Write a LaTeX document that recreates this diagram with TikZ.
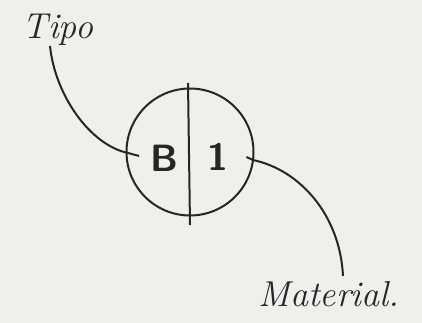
\documentclass[tikz,border=0pt]{standalone}
\usepackage{tikz}
\usetikzlibrary{positioning, calc}
\definecolor{InkGray}{RGB}{38,38,38}
\definecolor{PaperGray}{RGB}{239,239,236}

\begin{document}
\begin{tikzpicture}[x=1pt, y=-1pt, line width=2pt, draw=InkGray,
    handtext/.style={font=\fontsize{36}{36}\selectfont\itshape, text=InkGray, inner sep=0pt},
    markletter/.style={font=\fontsize{38}{38}\selectfont\sffamily\bfseries, text=InkGray, inner sep=0pt}]
  \fill[PaperGray] (0,0) rectangle (422,323);
  \useasboundingbox (0,0) rectangle (422,323);
  % symbol: circle split by a vertical stroke
  \node[circle, draw, minimum size=127pt, inner sep=0pt] (disc) at (190,152) {};
  \coordinate (top) at (188,83);
  \coordinate (bottom) at (190,225);
  \draw (top) -- (bottom);
  \node[markletter] (b) at (164,158) {B};
  \node[markletter] (one) at (218,157) {1};
  % labels
  \node[handtext] (tipo) at (58,30) {Tipo};
  \node[handtext] (material) at (329,294) {Material.};
  \coordinate (tipo foot) at (50,46);
  \coordinate (material top) at (343,276);
  % leaders
  \draw (tipo foot) .. controls (55,95) and (90,145) .. (128,153)
        -- ($(b.west)+(-10,-2)$);
  \draw ($(one.east)+(17,0)$) -- (253,160)
        .. controls (300,170) and (340,215) .. (material top);
\end{tikzpicture}
\end{document}
